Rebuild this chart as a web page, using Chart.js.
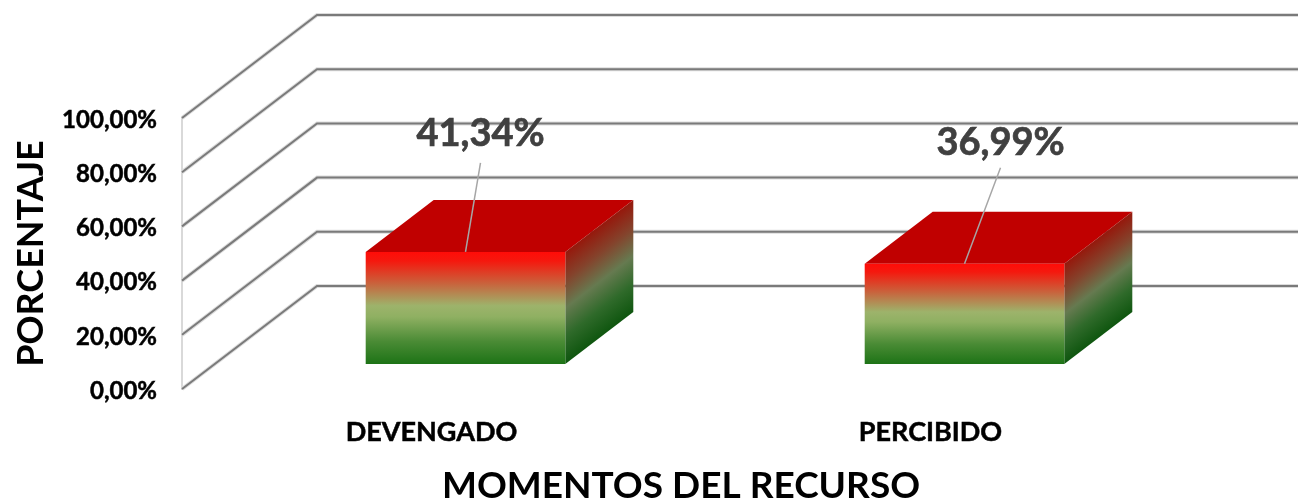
<!doctype html>
<html lang="es">
  <head>
    <meta charset="UTF-8" />
    <title>Momentos del recurso</title>
    <script src="https://cdn.jsdelivr.net/npm/chart.js"></script>
    <style>
      body {
        margin: 0;
        background: #ffffff;
      }
      canvas {
        display: block;
      }
    </style>
  </head>
  <body>
    <canvas id="chart" width="1298" height="502"></canvas>
    <script>
      const categories = ["DEVENGADO", "PERCIBIDO"];
      const values = [41.34, 36.99];
      const tickStep = 20;
      const axisMax = 100;
      const yTitle = "PORCENTAJE";
      const xTitle = "MOMENTOS DEL RECURSO";

      // fake 3D: how far the back wall and the bars sit from the front plane
      const wall = { dx: 135, dy: -103 };
      const barShift = { dx: 34, dy: -25 };
      const barDepth = { dx: 68, dy: -52 };
      // where each data label sits, relative to the top centre of its bar
      const labelOffsets = [
        { dx: 15, dy: -118, lineDy: -89 },
        { dx: 36, dy: -121, lineDy: -96 }
      ];

      function pct(v) {
        return v.toFixed(2).replace(".", ",") + "%";
      }

      function frontGradient(context) {
        const chart = context.chart;
        const base = chart.scales.y.getPixelForValue(0);
        const top = chart.scales.y.getPixelForValue(context.raw);
        // called once before layout, and once for the dataset with no value
        if (!isFinite(base) || !isFinite(top)) return "#9db36b";
        const g = chart.ctx.createLinearGradient(0, top, 0, base);
        g.addColorStop(0, "#ff0c08");
        g.addColorStop(0.08, "#f5180e");
        g.addColorStop(0.28, "#c9623c");
        g.addColorStop(0.48, "#9db36b");
        g.addColorStop(0.58, "#8fb062");
        g.addColorStop(0.8, "#4a8b35");
        g.addColorStop(1, "#1d7316");
        return g;
      }

      const depthPlugin = {
        id: "depth",
        beforeDatasetsDraw(chart) {
          const { ctx, scales, chartArea, width } = chart;
          ctx.save();
          // grid lines run from the front plane up the side wall, then along the back
          scales.y.ticks.forEach((t) => {
            const y = scales.y.getPixelForValue(t.value);
            [["#dcdcdc", 4], ["#7a7a7a", 2]].forEach(([color, lw]) => {
              ctx.beginPath();
              ctx.moveTo(chartArea.left, y);
              ctx.lineTo(chartArea.left + wall.dx, y + wall.dy);
              ctx.lineTo(width, y + wall.dy);
              ctx.strokeStyle = color;
              ctx.lineWidth = lw;
              ctx.stroke();
            });
          });

          // top and side faces of each bar
          chart.getDatasetMeta(0).data.forEach((bar) => {
            const left = bar.x - bar.width / 2 + barShift.dx;
            const right = bar.x + bar.width / 2 + barShift.dx;
            const top = bar.y + barShift.dy;
            const bottom = bar.base + barShift.dy;

            ctx.beginPath();
            ctx.moveTo(left, top);
            ctx.lineTo(left + barDepth.dx, top + barDepth.dy);
            ctx.lineTo(right + barDepth.dx, top + barDepth.dy);
            ctx.lineTo(right, top);
            ctx.closePath();
            ctx.fillStyle = "#c00000";
            ctx.fill();

            // side face: the vertical gradient is skewed along the depth
            ctx.save();
            ctx.transform(1, barDepth.dy / barDepth.dx, 0, 1, right, top);
            const g = ctx.createLinearGradient(0, 0, 0, bottom - top);
            g.addColorStop(0, "#96180c");
            g.addColorStop(0.25, "#84432c");
            g.addColorStop(0.5, "#667a50");
            g.addColorStop(0.75, "#2f6a2a");
            g.addColorStop(1, "#0f560f");
            ctx.fillStyle = g;
            ctx.fillRect(0, 0, barDepth.dx, bottom - top);
            ctx.restore();
          });
          ctx.restore();
        },
        // the library draws the front faces, pushed back into the box
        beforeDatasetDraw(chart) {
          chart.ctx.save();
          chart.ctx.translate(barShift.dx, barShift.dy);
        },
        afterDatasetDraw(chart) {
          chart.ctx.restore();
        },
        afterDatasetsDraw(chart) {
          const { ctx } = chart;
          ctx.save();
          chart.getDatasetMeta(0).data.forEach((bar, i) => {
            const x = bar.x + barShift.dx;
            const y = bar.y + barShift.dy;
            const off = labelOffsets[i];
            ctx.beginPath();
            ctx.moveTo(x, y);
            ctx.lineTo(x + off.dx, y + off.lineDy);
            ctx.strokeStyle = "#a6a6a6";
            ctx.lineWidth = 1.5;
            ctx.stroke();
            ctx.font = "bold 38px Lato";
            ctx.fillStyle = "#404040";
            ctx.strokeStyle = "#404040";
            ctx.lineWidth = 0.7;
            ctx.textAlign = "center";
            ctx.textBaseline = "middle";
            ctx.fillText(pct(values[i]), x + off.dx, y + off.dy);
            ctx.strokeText(pct(values[i]), x + off.dx, y + off.dy);
          });
          ctx.restore();
        }
      };

      new Chart(document.getElementById("chart"), {
        type: "bar",
        data: {
          labels: categories,
          datasets: [
            {
              data: values,
              backgroundColor: frontGradient,
              categoryPercentage: 0.4,
              barPercentage: 1
            }
          ]
        },
        options: {
          responsive: false,
          animation: false,
          layout: { padding: { top: 118, right: 118, left: 0, bottom: 0 } },
          plugins: {
            legend: { display: false },
            tooltip: { enabled: false }
          },
          scales: {
            x: {
              grid: { display: false },
              border: { display: false },
              ticks: {
                color: "#000000",
                padding: 19,
                textStrokeColor: "#000000",
                textStrokeWidth: 0.5,
                font: { family: "Lato", weight: "bold", size: 27 }
              },
              title: {
                display: true,
                text: xTitle,
                color: "#000000",
                padding: { top: 0, bottom: -3 },
                font: { family: "Lato", weight: "bold", size: 37, lineHeight: 1 }
              },
              afterFit(scale) {
                scale.height = 113;
              }
            },
            y: {
              min: 0,
              max: axisMax,
              grid: { display: false, drawTicks: false },
              border: { display: true, color: "#d9d9d9", width: 2 },
              ticks: {
                stepSize: tickStep,
                color: "#000000",
                padding: 25,
                textStrokeColor: "#000000",
                textStrokeWidth: 0.5,
                font: { family: "Lato", weight: "bold", size: 24 },
                callback: (v) => pct(v)
              },
              title: {
                display: true,
                text: yTitle,
                color: "#000000",
                padding: { top: 10, bottom: 0 },
                font: { family: "Lato", weight: "bold", size: 36 }
              },
              afterFit(scale) {
                scale.width = 182;
                // tick labels sit a little below their grid line in the original
                scale.drawLabels = function (area) {
                  this.ctx.save();
                  this.ctx.translate(0, 2);
                  Chart.Scale.prototype.drawLabels.call(this, area);
                  this.ctx.restore();
                };
              }
            }
          }
        },
        plugins: [depthPlugin]
      });
    </script>
  </body>
</html>
